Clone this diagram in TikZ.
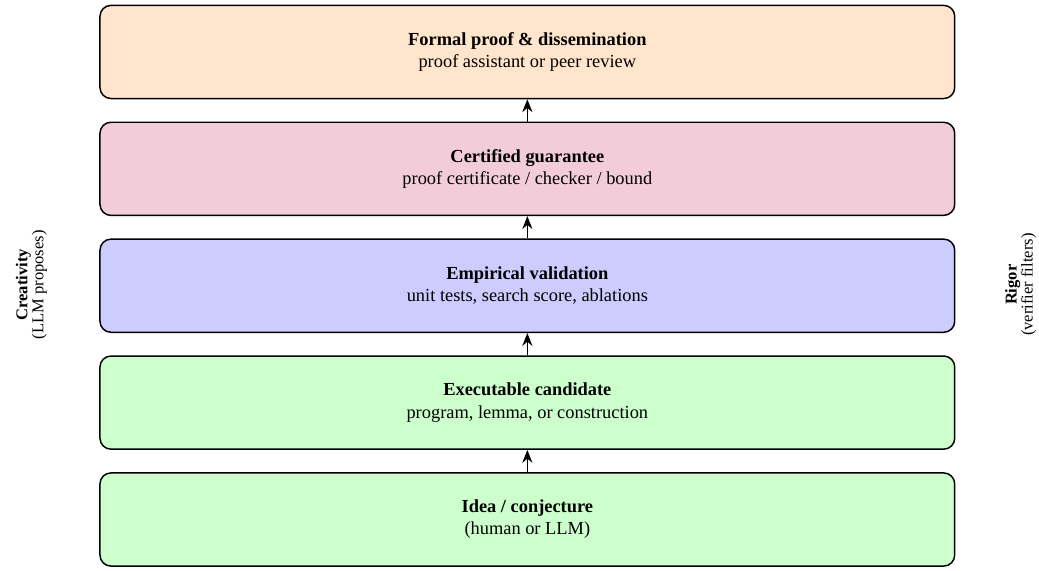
\documentclass[tikz,border=0pt]{standalone}
\usepackage{fontspec}
\setmainfont{Liberation Serif}
\usepackage{tikz}
\usetikzlibrary{positioning}
\usetikzlibrary{arrows.meta}
\tikzset{>={Stealth[length=7pt,width=5.5pt]}}
\tikzset{
  stage/.style={draw,thick,rounded corners=6pt,minimum width=16.33cm,minimum height=1.78cm,align=center},
  side/.style={rotate=90,align=center,font={\fontsize{9}{8.7}\selectfont}}
}

\begin{document}
\begin{tikzpicture}
    \useasboundingbox (0,0) rectangle (19.85,10.89);
    % the ladder, bottom to top
    \node[stage,fill=green!20] (idea) at (10.075,0.965) {\textbf{Idea / conjecture}\\(human or LLM)};
    \node[stage,fill=green!20,above=0.425cm of idea] (cand) {\textbf{Executable candidate}\\program, lemma, or construction};
    \node[stage,fill=blue!20,above=0.425cm of cand] (valid) {\textbf{Empirical validation}\\unit tests, search score, ablations};
    \node[stage,fill=purple!20,above=0.425cm of valid] (cert) {\textbf{Certified guarantee}\\proof certificate / checker / bound};
    \node[stage,fill=orange!20,above=0.425cm of cert] (formal) {\textbf{Formal proof \& dissemination}\\proof assistant or peer review};
    \foreach \a/\b in {idea/cand,cand/valid,valid/cert,cert/formal} {
      \draw[->,thick] (\a) -- (\b);
    }
    % side labels
    \node[side] (crea) at (0.6,5.45) {\textbf{Creativity}\\(LLM proposes)};
    \node[side] (rigor) at (19.5,5.45) {\textbf{Rigor}\\(verifier filters)};
\end{tikzpicture}
\end{document}
